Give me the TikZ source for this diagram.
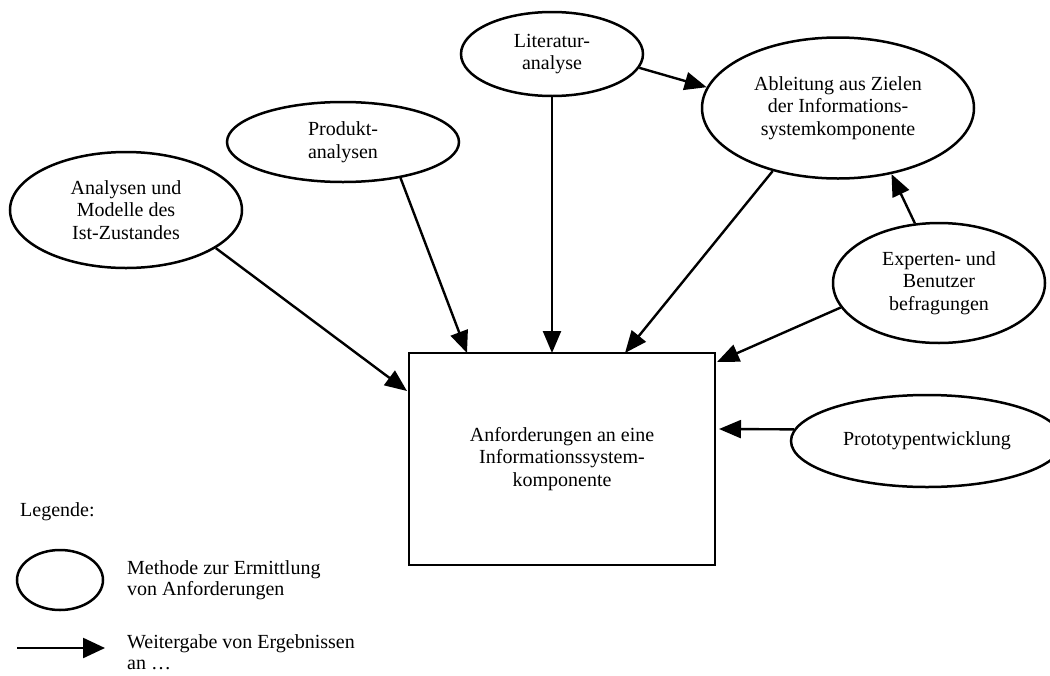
\documentclass[tikz,border=0pt]{standalone}
\usepackage{fontspec}
\setmainfont{Liberation Serif}
\usetikzlibrary{arrows.meta,shapes.geometric,calc}
\begin{document}
\begin{tikzpicture}[x=1pt,y=-1pt,
  every node/.style={font=\fontsize{20}{22.5}\selectfont},
  meth/.style={ellipse,draw,line width=2.5pt,inner sep=0pt,align=center},
  req/.style={rectangle,draw,line width=2.5pt,inner sep=0pt,align=center},
  flow/.style={line width=2.4pt,-{Triangle[length=22pt,width=18pt]}},
  legtext/.style={anchor=west,align=left,inner sep=0pt}]
\useasboundingbox (0,0) rectangle (1050,675);
% nodes
\node[meth,minimum width=232pt,minimum height=116pt] (ana) at (126,210) {Analysen und\\Modelle des\\Ist-Zustandes};
\node[meth,minimum width=232pt,minimum height=80pt] (prod) at (343,142) {Produkt-\\analysen};
\node[meth,minimum width=182pt,minimum height=84pt] (lit) at (552,54) {Literatur-\\analyse};
\node[meth,minimum width=272pt,minimum height=141pt] (abl) at (838,108) {Ableitung aus Zielen\\der Informations-\\systemkomponente};
\node[meth,minimum width=212pt,minimum height=120pt] (exp) at (939,283) {Experten- und\\Benutzer\\befragungen};
\node[meth,minimum width=272pt,minimum height=92pt] (proto) at (927,441) {Prototypentwicklung};
\node[req,minimum width=306pt,minimum height=212pt] (rect) at (562,459) {Anforderungen an eine\\Informationssystem-\\komponente};
% end points on the rectangle
\coordinate (r1) at (407,391);
\coordinate (r2) at (467,353);
\coordinate (r3) at (552,353);
\coordinate (r4) at (625,353);
\coordinate (r5) at (717,362);
\coordinate (r6) at (719,429);
% connectors
\draw[flow] (ana.-23) -- (r1);
\draw[flow] (prod.-32) -- (r2);
\draw[flow] (lit.south) -- (r3);
\draw[flow] (lit.-9) -- (abl.171);
\draw[flow] (abl.224) -- (r4);
\draw[flow] (exp.112) -- (abl.-51);
\draw[flow] (exp.194) -- (r5);
\draw[flow] (proto.175) -- (r6);
% legend
\node[legtext] (leg) at (20,512) {Legende:};
\node[meth,minimum width=86pt,minimum height=60pt] (legell) at (60,580) {};
\node[legtext,font=\fontsize{20}{20.5}\selectfont] (legt1) at (127,580) {Methode zur Ermittlung\\von Anforderungen};
\coordinate (la) at (17,648);
\coordinate (lb) at (105,648);
\draw[line width=2.4pt,-{Triangle[length=22pt,width=20pt]}] (la) -- (lb);
\node[legtext,font=\fontsize{20}{21}\selectfont] (legt2) at (127,652) {Weitergabe von Ergebnissen\\an \dots};
\end{tikzpicture}
\end{document}
